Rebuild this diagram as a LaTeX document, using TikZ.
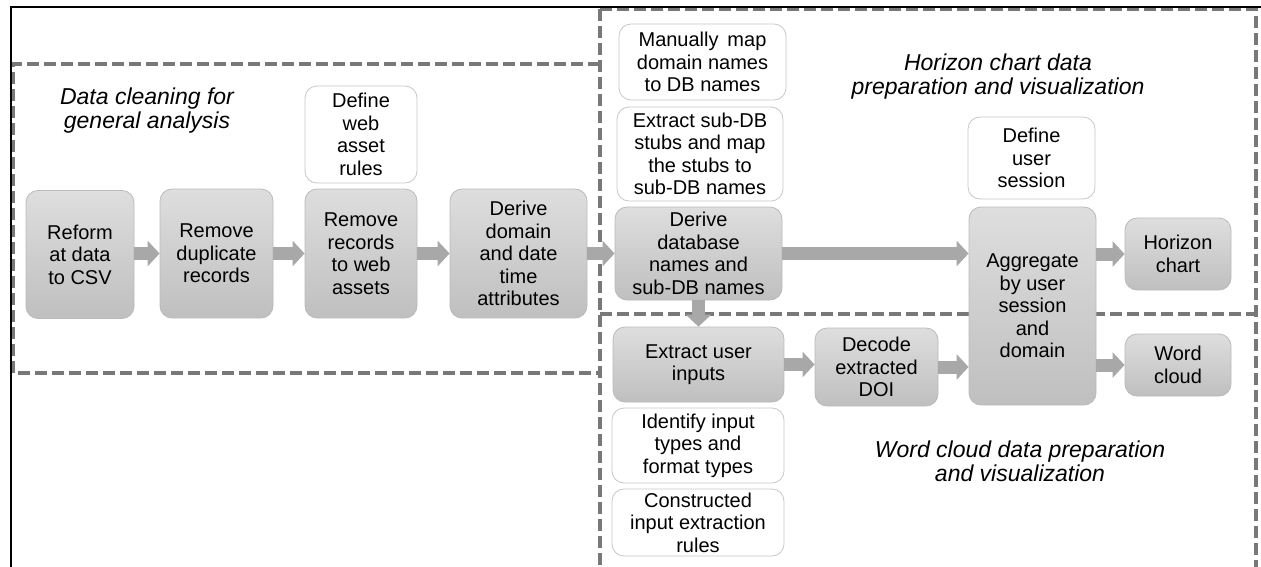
\documentclass[tikz,border=0pt]{standalone}
\usepackage{fontspec}
\setmainfont{Liberation Sans}
\usetikzlibrary{arrows.meta,calc}
\begin{document}
\begin{tikzpicture}[x=1pt,y=-1pt,
  box/.style={rounded corners=12pt, line width=0.8pt, align=center, inner sep=0pt,
    font=\fontsize{20pt}{22.5pt}\selectfont},
  stage/.style={box, draw=black!27, top color=black!13, bottom color=black!25},
  note/.style={box, draw=black!22, fill=white},
  wh/.style 2 args={minimum width=#1pt, minimum height=#2pt},
  title/.style={align=center, font=\fontsize{23pt}{24pt}\selectfont\itshape},
  region/.style={draw=black!53, line width=3.2pt, dash pattern=on 12pt off 5pt},
  flow/.style={draw=black!34, line width=13pt, -{Triangle[width=25pt,length=12pt]}}
]
\useasboundingbox (0,0) rectangle (1261,566);

% dashed regions and outer frame
\begin{scope}
  \clip (0,0) rectangle (1261,566);
  % cleaning region (its right side is shared with the regions on the right)
  \draw[region] (600,64) -- (13,64) -- (13,373) -- (600,373);
  % horizon chart and word cloud regions, split by one shared line
  \draw[region] (600,9) rectangle (1256,600);
  \draw[region] (600,314) -- (1256,314);
  \draw[line width=2pt] (11,580) -- (11,7) -- (1270,7);
\end{scope}

% region titles
\node[title] (tclean) at (147,111) {Data cleaning for\\general analysis};
\node[title] (thor) at (998,77) {Horizon chart data\\preparation and visualization};
\node[title] (tword) at (1020,461) {Word cloud data preparation\\and visualization};

% data cleaning stages
\node[stage, wh={108}{128}] (reform) at (80,254.5) {Reform\\at data\\to CSV};
\node[stage, wh={113}{129}] (dup) at (216.5,253.5) {Remove\\duplicate\\records};
\node[stage, wh={112}{129}] (rec) at (361,253.5) {Remove\\records\\to web\\assets};
\node[note, wh={112}{97}] (rules) at (361,134.5) {Define\\web\\asset\\rules};
\node[stage, wh={137}{129}] (domain) at (518.5,253.5) {Derive\\domain\\and date\\time\\attributes};

% horizon chart branch
\node[note, wh={167}{76}] (manual) at (702.5,62) {Manually\, map\\domain names\\to DB names};
\node[note, wh={166}{94}] (stubs) at (700,154) {Extract sub-DB\\stubs and map\\the stubs to\\sub-DB names};
\node[stage, wh={167}{93}] (dbnames) at (698.5,253.5) {Derive\\database\\names and\\sub-DB names};
\node[note, wh={127}{82}] (session) at (1031.5,158) {Define\\user\\session};
\node[stage, wh={127}{198}] (agg) at (1032.5,306) {Aggregate\\by user\\session\\and\\domain};
\node[stage, wh={106}{72}] (horizon) at (1178,254) {Horizon\\chart};

% word cloud branch
\node[stage, wh={171}{75}] (inputs) at (698.5,364.5) {Extract user\\inputs};
\node[stage, wh={123}{78}] (decode) at (876.5,367) {Decode\\extracted\\DOI};
\node[stage, wh={106}{62}] (wcloud) at (1178,365) {Word\\cloud};
\node[note, wh={172}{75}] (identify) at (698,445.5) {Identify input\\types and\\format types};
\node[note, wh={172}{67}] (constr) at (698,522.5) {Constructed\\input extraction\\rules};

% flow arrows
\draw[flow] (reform.east |- dup.west) -- (dup.west);
\draw[flow] (dup.east) -- (rec.west);
\draw[flow] (rec.east) -- (domain.west);
\draw[flow] (domain.east) -- (dbnames.west);
\draw[flow] (dbnames.east) -- (dbnames.east -| agg.west);
\draw[flow] (agg.east |- horizon.west) -- (horizon.west);
\draw[flow] (dbnames.south) -- (dbnames.south |- inputs.north);
\draw[flow] (inputs.east) -- (inputs.east -| decode.west);
\draw[flow] (decode.east) -- (decode.east -| agg.west);
\draw[flow] (agg.east |- wcloud.west) -- (wcloud.west);
\end{tikzpicture}
\end{document}
